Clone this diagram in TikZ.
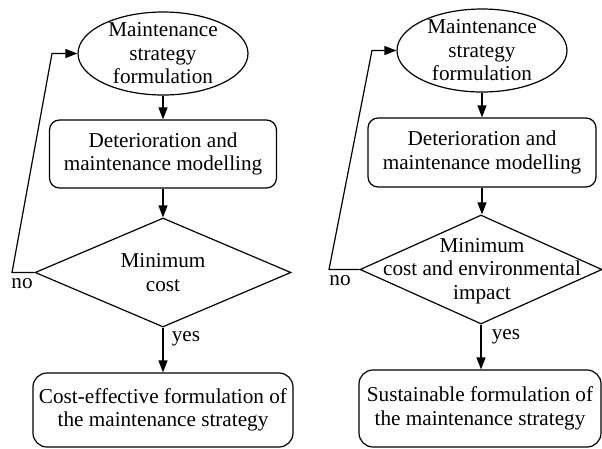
\documentclass[tikz,border=0pt]{standalone}
\usepackage{fontspec}
\setmainfont{Liberation Serif}
\newfontfamily\chartfont{Liberation Serif}
\usetikzlibrary{shapes.geometric,arrows.meta}

\begin{document}
\begin{tikzpicture}[x=1pt, y=-1pt, line width=1.2pt, >={Triangle[length=12pt,width=9pt]},
    every node/.style={font=\chartfont\fontsize{21.2}{23.5}\selectfont},
    oval/.style={shape=ellipse, draw=black, inner sep=0pt, minimum width=170, minimum height=83},
    box/.style={shape=rectangle, draw=black, rounded corners=10pt, align=center, inner sep=2pt},
    decision/.style={shape=diamond, draw=black, inner sep=0pt, minimum height=109},
    txt/.style={align=center, inner sep=0pt}]
    \useasboundingbox (0,0) rectangle (602,448);
    % left chart
    \node[oval] at (163,53.5) (E1) {};
    \node[txt] at (E1) (E1t) {Maintenance\\strategy\\formulation};
    \node[box, minimum width=227, minimum height=68] at (163,154) (M1) {Deterioration and\\maintenance modelling};
    \node[decision, minimum width=256] at (163,272.5) (D1) {};
    \node[txt] at (D1) (D1t) {Minimum\\cost};
    \node[box, rounded corners=14pt, minimum width=260, minimum height=74] at (163,410) (F1) {Cost-effective formulation of\\the maintenance strategy};
    \node at (22,284) (N1) {no};
    \node at (186,339) (Y1) {yes};
    \coordinate (L1) at (12,272.5);
    \coordinate (U1) at (52,53.5);
    \path [->] (E1) edge (M1);
    \path [->] (M1) edge (D1);
    \path [->] (D1) edge (F1);
    \draw [->] (D1.west) -- (L1) -- (U1) -- (E1.west);
    % right chart
    \node[oval] at (482,50.5) (E2) {};
    \node[txt] at (E2) (E2t) {Maintenance\\strategy\\formulation};
    \node[box, minimum width=228, minimum height=69] at (482,152.5) (M2) {Deterioration and\\maintenance modelling};
    \node[decision, minimum width=242] at (481,269.5) (D2) {};
    \node[txt] at (482,271) (D2t) {Minimum\\cost and environmental\\impact};
    \node[box, rounded corners=14pt, minimum width=242, minimum height=77] at (480,408.5) (F2) {Sustainable formulation of\\the maintenance strategy};
    \node at (340,281) (N2) {no};
    \node at (506,337) (Y2) {yes};
    \coordinate (L2) at (329,269.5);
    \coordinate (U2) at (372,50.5);
    \path [->] (E2.south) edge (E2.south |- M2.north);
    \path [->] (M2.south) edge (M2.south |- D2.north);
    \path [->] (D2.south) edge (D2.south |- F2.north);
    \draw [->] (D2.west) -- (L2) -- (U2) -- (E2.west);
\end{tikzpicture}
\end{document}
